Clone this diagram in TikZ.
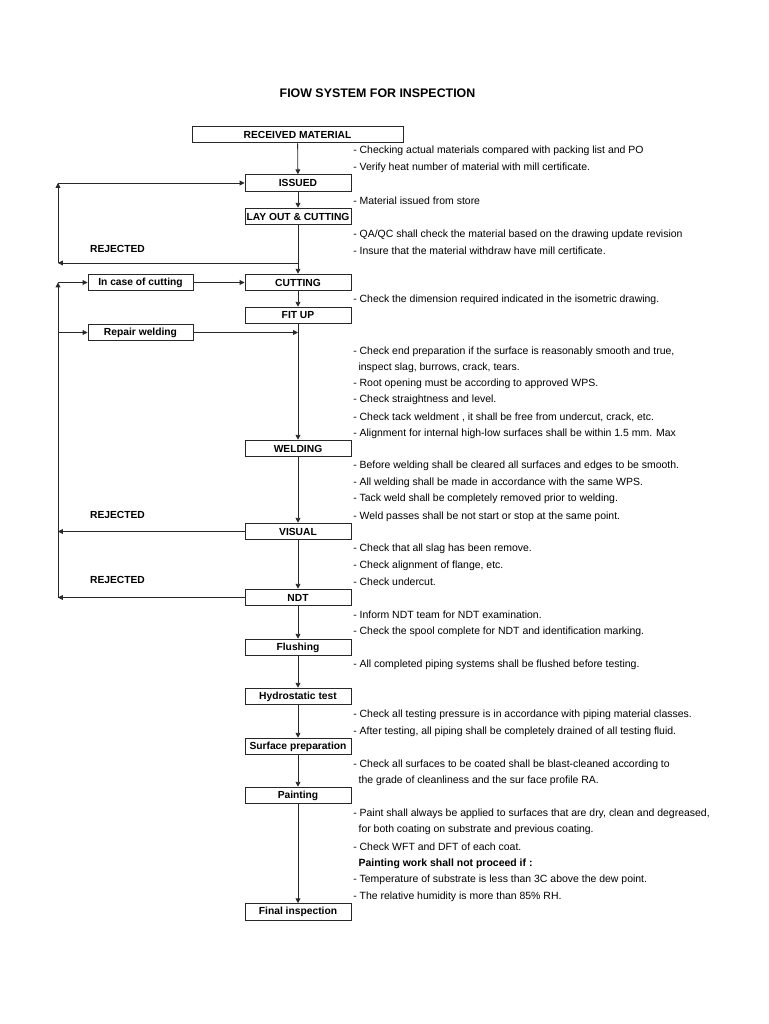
\documentclass[tikz,border=0pt]{standalone}
\usepackage{fontspec}
\setmainfont{Liberation Sans}
\usetikzlibrary{arrows.meta,positioning}
\definecolor{flowline}{RGB}{40,40,40}

\tikzset{
  stepbox/.style={draw=flowline, line width=0.7pt, inner sep=0pt, minimum width=79.5pt, minimum height=12.5pt, font=\bfseries\fontsize{7.7}{9}\selectfont},
  sidebox/.style={stepbox, minimum width=78.75pt},
  notetext/.style={anchor=west, inner sep=0pt, font=\fontsize{7.85}{9}\selectfont},
  rejtext/.style={inner sep=0pt, font=\bfseries\fontsize{7.7}{9}\selectfont},
  flowarrow/.style={draw=flowline, line width=0.6pt, -{Triangle[length=3.6pt,width=3.6pt]}}
}

\begin{document}
\begin{tikzpicture}[x=0.75pt, y=-0.75pt]
\useasboundingbox (0,0) rectangle (768,1024);
% Title
\node[inner sep=0pt, font=\bfseries\fontsize{9.3}{11}\selectfont] (title) at (377.5,93) {FIOW SYSTEM FOR INSPECTION};
% Main flow boxes
\node[stepbox, minimum width=158.25pt] (received) at (297.5,134.5) {RECEIVED MATERIAL};
\node[stepbox] (issued) at (298,183) {ISSUED};
\node[stepbox] (layout) at (298,216.5) {LAY OUT \& CUTTING};
\node[stepbox] (cutting) at (298,282.5) {CUTTING};
\node[stepbox] (fitup) at (298,315.5) {FIT UP};
\node[stepbox] (welding) at (298,448.5) {WELDING};
\node[stepbox] (visual) at (298,531.5) {VISUAL};
\node[stepbox] (ndt) at (298,597.5) {NDT};
\node[stepbox] (flushing) at (298,647.5) {Flushing};
\node[stepbox] (hydro) at (298,696.5) {Hydrostatic test};
\node[stepbox] (surface) at (298,746.5) {Surface preparation};
\node[stepbox] (painting) at (298,795.5) {Painting};
\node[stepbox] (final) at (298,912) {Final inspection};
% Side boxes
\node[sidebox] (incase) at (140.5,282.5) {In case of cutting};
\node[sidebox] (repair) at (140.5,332.5) {Repair welding};
% Rejected labels
\node[rejtext] (rejlay) at (117.5,249) {REJECTED};
\node[rejtext] (rejvis) at (117.5,515) {REJECTED};
\node[rejtext] (rejndt) at (117.5,580) {REJECTED};
% Corner points of the return lines
\coordinate (laysplit) at (298,263);
\coordinate (loopa) at (58,263);
\coordinate (loopb) at (58,183);
\coordinate (loopc) at (58,597.5);
\coordinate (loopd) at (58,282.5);
\coordinate (loope) at (58,332.5);
\coordinate (loopf) at (58,531.5);
\coordinate (fitjoin) at (298,332.5);
% Main connectors
\draw[flowarrow] (received) -- (issued);
\draw[flowarrow] (issued) -- (layout);
\draw[flowarrow] (layout) -- (cutting);
\draw[flowarrow] (cutting) -- (fitup);
\draw[flowarrow] (fitup) -- (welding);
\draw[flowarrow] (welding) -- (visual);
\draw[flowarrow] (visual) -- (ndt);
\draw[flowarrow] (ndt) -- (flushing);
\draw[flowarrow] (flushing) -- (hydro);
\draw[flowarrow] (hydro) -- (surface);
\draw[flowarrow] (surface) -- (painting);
\draw[flowarrow] (painting) -- (final);
% Return after lay out
\draw[flowarrow] (laysplit) -- (loopa);
\draw[flowarrow] (loopa) -- (loopb);
\draw[flowarrow] (loopb) -- (issued);
% Return after visual and NDT
\draw[flowarrow] (visual) -- (loopf);
\draw[flowarrow] (ndt) -- (loopc);
\draw[flowarrow] (loopc) -- (loopd);
\draw[flowarrow] (loopd) -- (incase);
\draw[flowarrow] (incase) -- (cutting);
\draw[flowarrow] (loope) -- (repair);
\draw[flowarrow] (repair) -- (fitjoin);
% Notes on the right
\foreach \y/\t [count=\i] in {
  149/{- Checking actual materials compared with packing list and PO},
  166/{- Verify heat number of material with mill certificate.},
  199/{- Material issued from store},
  233/{- QA/QC shall check the material based on the drawing update revision},
  249/{- Insure that the material withdraw have mill certificate.},
  298/{- Check the dimension required indicated in the isometric drawing.},
  350/{- Check end preparation if the surface is reasonably smooth and true,},
  366/{\hspace{4pt}inspect slag, burrows, crack, tears.},
  382/{- Root opening must be according to approved WPS.},
  398/{- Check straightness and level.},
  415/{- Check tack weldment , it shall be free from undercut, crack, etc.},
  432/{- Alignment for internal high-low surfaces shall be within 1.5 mm. Max},
  464/{- Before welding shall be cleared all surfaces and edges to be smooth.},
  481/{- All welding shall be made in accordance with the same WPS.},
  497/{- Tack weld shall be completely removed prior to welding.},
  515/{- Weld passes shall be not start or stop at the same point.},
  547/{- Check that all slag has been remove.},
  564/{- Check alignment of flange, etc.},
  580/{- Check undercut.},
  613/{- Inform NDT team for NDT examination.},
  630/{- Check the spool complete for NDT and identification marking.},
  663/{- All completed piping systems shall be flushed before testing.},
  713/{- Check all testing pressure is in accordance with piping material classes.},
  730/{- After testing, all piping shall be completely drained of all testing fluid.},
  763/{- Check all surfaces to be coated shall be blast-cleaned according to},
  779/{\hspace{4pt}the grade of cleanliness and the sur face profile RA.},
  812/{- Paint shall always be applied to surfaces that are dry, clean and degreased,},
  828/{\hspace{4pt}for both coating on substrate and previous coating.},
  845/{- Check WFT and DFT of each coat.},
  862/{\hspace{4pt}\textbf{Painting work shall not proceed if :}},
  878/{- Temperature of substrate is less than 3C above the dew point.},
  895/{- The relative humidity is more than 85\% RH.}} {
  \node[notetext] (note\i) at (353,\y+2) {\t};
}
\end{tikzpicture}
\end{document}
